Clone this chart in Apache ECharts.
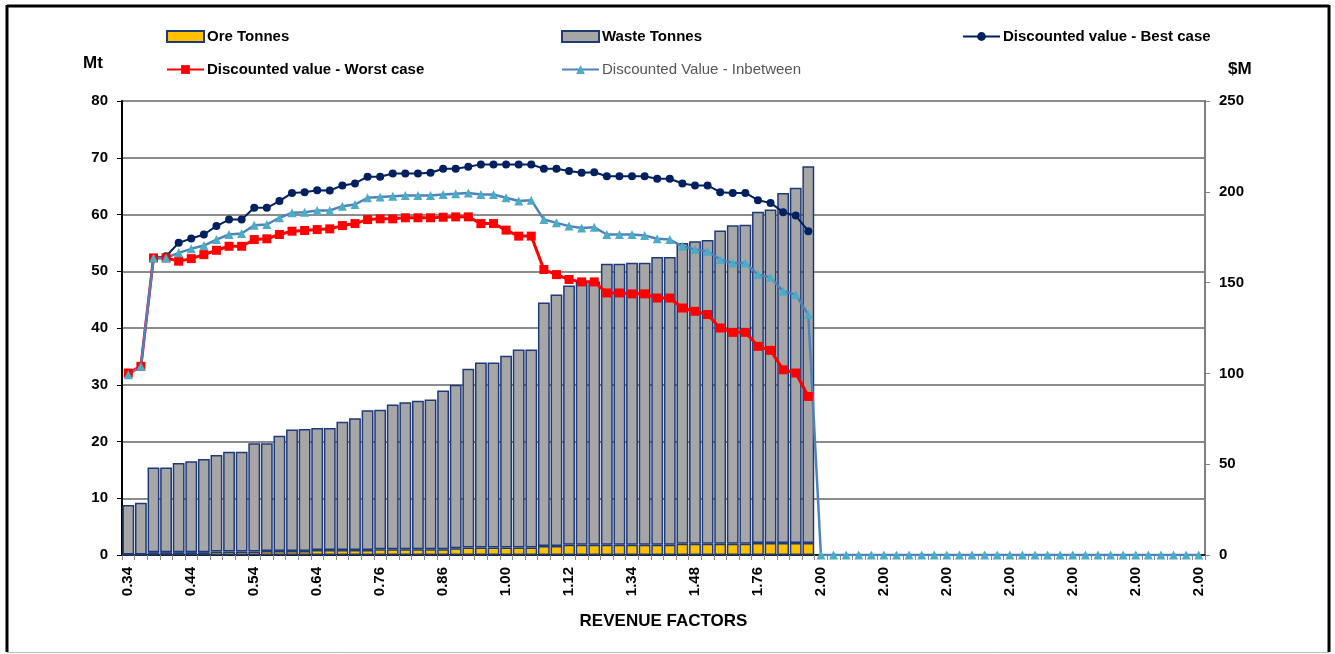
<!DOCTYPE html>
<html>
<head>
<meta charset="utf-8">
<script src="https://cdn.jsdelivr.net/npm/echarts@6/dist/echarts.min.js"></script>
<style>
  html, body { margin: 0; padding: 0; background: #fff; }
  #chart { width: 1335px; height: 654px; }
</style>
</head>
<body>
<div id="chart"></div>
<script>
// revenue factor per pit shell (only every 5th label is shown)
var factors = [
  "0.34", "0.36", "0.38", "0.40", "0.42", "0.44", "0.46", "0.48", "0.50", "0.52",
  "0.54", "0.56", "0.58", "0.60", "0.62", "0.64", "0.66", "0.68", "0.71", "0.74",
  "0.76", "0.78", "0.80", "0.82", "0.84", "0.86", "0.88", "0.90", "0.94", "0.96",
  "1.00", "1.02", "1.04", "1.06", "1.10", "1.12", "1.16", "1.20", "1.24", "1.30",
  "1.34", "1.36", "1.40", "1.42", "1.46", "1.48", "1.54", "1.60", "1.66", "1.70",
  "1.76", "1.80", "1.84", "1.88", "1.94", "2.00", "2.00", "2.00", "2.00", "2.00",
  "2.00", "2.00", "2.00", "2.00", "2.00", "2.00", "2.00", "2.00", "2.00", "2.00",
  "2.00", "2.00", "2.00", "2.00", "2.00", "2.00", "2.00", "2.00", "2.00", "2.00",
  "2.00", "2.00", "2.00", "2.00", "2.00", "2.00"
];

// Mt
var oreTonnes = [
  0.1, 0.1, 0.5, 0.5, 0.5, 0.5, 0.5, 0.6, 0.6, 0.6,
  0.6, 0.7, 0.7, 0.7, 0.7, 0.9, 0.9, 0.9, 0.9, 0.9,
  1.0, 1.0, 1.0, 1.0, 1.0, 1.0, 1.2, 1.3, 1.3, 1.3,
  1.3, 1.3, 1.3, 1.6, 1.6, 1.8, 1.8, 1.8, 1.8, 1.8,
  1.8, 1.8, 1.8, 1.8, 2.0, 2.0, 2.0, 2.0, 2.0, 2.0,
  2.1, 2.1, 2.1, 2.1, 2.1
];
var wasteTonnes = [
  8.7, 9.1, 14.9, 14.9, 15.7, 16.0, 16.4, 17.0, 17.6, 17.6,
  19.1, 19.0, 20.3, 21.4, 21.5, 21.5, 21.5, 22.6, 23.2, 24.6,
  24.6, 25.5, 25.9, 26.2, 26.4, 28.0, 28.8, 31.5, 32.6, 32.6,
  33.8, 34.9, 34.9, 42.9, 44.3, 45.7, 46.4, 46.4, 49.5, 49.5,
  49.7, 49.7, 50.7, 50.7, 53.0, 53.3, 53.5, 55.2, 56.1, 56.2,
  58.4, 58.8, 61.7, 62.6, 66.4
];

// $M
var bestCase = [
  null, null, 163.6, 164.5, 171.9, 174.3, 176.5, 181.1, 184.7, 184.7,
  191.2, 191.2, 194.9, 199.4, 199.8, 200.9, 200.7, 203.5, 204.6, 208.3,
  208.3, 210.1, 210.1, 210.1, 210.5, 212.7, 212.7, 213.8, 215.1, 215.1,
  215.1, 215.1, 215.1, 212.7, 212.7, 211.4, 210.5, 210.8, 208.6, 208.6,
  208.6, 208.6, 207.2, 207.2, 204.6, 203.5, 203.5, 199.8, 199.4, 199.4,
  195.4, 193.9, 188.8, 186.9, 178.3
];
var worstCase = [
  100.2, 103.9, 163.6, 163.6, 161.8, 163.2, 165.4, 167.8, 170.0, 170.0,
  173.7, 174.1, 176.5, 178.3, 178.7, 179.2, 179.6, 181.4, 182.5, 184.7,
  185.1, 185.1, 185.7, 185.7, 185.7, 186.0, 186.2, 186.2, 182.5, 182.5,
  178.9, 175.6, 175.6, 157.2, 154.4, 151.7, 150.4, 150.4, 144.3, 144.3,
  143.8, 143.8, 141.5, 141.5, 136.0, 134.2, 132.4, 125.0, 122.6, 122.6,
  114.9, 112.7, 102.0, 100.2, 87.3
];
var inbetween = [
  99.3, 103.9, 163.6, 163.6, 166.4, 168.6, 170.4, 173.7, 176.5, 177.0,
  181.6, 182.0, 185.7, 188.4, 188.8, 189.7, 189.7, 192.1, 193.0, 196.7,
  197.1, 197.6, 198.0, 198.0, 198.0, 198.5, 198.9, 199.4, 198.5, 198.5,
  196.7, 194.9, 195.4, 184.7, 182.9, 181.1, 180.1, 180.5, 176.5, 176.5,
  176.5, 175.9, 174.1, 173.7, 170.0, 168.2, 167.3, 162.7, 160.8, 160.8,
  154.4, 152.9, 145.2, 143.4, 132.4, 0, 0, 0, 0, 0,
  0, 0, 0, 0, 0, 0, 0, 0, 0, 0,
  0, 0, 0, 0, 0, 0, 0, 0, 0, 0,
  0, 0, 0, 0, 0, 0
];

var font = "Liberation Sans, Arial, sans-serif";
var navy = "#1f3a78";

function legendAt(name, left, top, bold, color, icon) {
  var lg = {
    data: [name],
    left: left,
    top: top,
    itemWidth: 37,
    itemHeight: 11,
    itemGap: 4,
    textStyle: {
      fontFamily: font,
      fontSize: 15,
      fontWeight: bold ? "bold" : "normal",
      color: color || "#000",
      padding: [0, 0, 0, -2]
    }
  };
  if (icon) lg.icon = icon;
  return lg;
}

var myChart = echarts.init(document.getElementById("chart"));
var option = {
  animation: false,
  backgroundColor: "#fff",
  legend: [
    legendAt("Ore Tonnes", 161, 24, true, "#000", "rect"),
    legendAt("Waste Tonnes", 556, 24, true, "#000", "rect"),
    legendAt("Discounted value - Best case", 957, 24, true),
    legendAt("Discounted value - Worst case", 161, 57, true),
    legendAt("Discounted Value - Inbetween", 556, 57, false, "#555")
  ],
  grid: {
    left: 122,
    right: 130,
    top: 101,
    bottom: 99,
    show: true,
    borderColor: "#000",
    borderWidth: 1.5
  },
  graphic: [
    { type: "line", shape: { x1: 7, y1: 6, x2: 1329, y2: 6 }, style: { stroke: "#000", lineWidth: 3 } },
    { type: "line", shape: { x1: 7, y1: 5, x2: 7, y2: 652 }, style: { stroke: "#000", lineWidth: 3 } },
    { type: "line", shape: { x1: 1329, y1: 5, x2: 1329, y2: 652 }, style: { stroke: "#000", lineWidth: 3 } },
    { type: "line", shape: { x1: 7, y1: 652.5, x2: 1329, y2: 652.5 }, style: { stroke: "#bbb", lineWidth: 1 } },
    { type: "text", left: 83, top: 55, style: { text: "Mt", font: "bold 17px " + font, fill: "#000" } },
    { type: "text", left: 1228, top: 61, style: { text: "$M", font: "bold 17px " + font, fill: "#000" } }
  ],
  xAxis: {
    type: "category",
    data: factors,
    name: "REVENUE FACTORS",
    nameLocation: "middle",
    nameGap: 58,
    nameTextStyle: { fontFamily: font, fontSize: 17, fontWeight: "bold", color: "#000" },
    axisLine: { lineStyle: { color: "#000", width: 1.5 } },
    axisTick: { show: true, interval: 0, length: 5, lineStyle: { color: "#888" } },
    axisLabel: {
      interval: 4,
      rotate: 90,
      margin: 12,
      fontFamily: font,
      fontSize: 15,
      fontWeight: "bold",
      color: "#000"
    },
    splitLine: { show: false }
  },
  yAxis: [
    {
      type: "value",
      min: 0,
      max: 80,
      interval: 10,
      axisLine: { show: true, lineStyle: { color: "#000", width: 2 } },
      axisTick: { show: true, length: 5, lineStyle: { color: "#000" } },
      axisLabel: { fontFamily: font, fontSize: 15, fontWeight: "bold", color: "#000", margin: 14 },
      splitLine: { lineStyle: { color: "#8c8c8c", width: 2 } }
    },
    {
      type: "value",
      min: 0,
      max: 250,
      interval: 50,
      position: "right",
      axisLine: { show: true, lineStyle: { color: "#7f7f7f", width: 2 } },
      axisTick: { show: true, length: 5, lineStyle: { color: "#7f7f7f" } },
      axisLabel: { fontFamily: font, fontSize: 15, fontWeight: "bold", color: "#000", margin: 14 },
      splitLine: { show: false }
    }
  ],
  series: [
    {
      name: "Ore Tonnes",
      type: "bar",
      stack: "tonnes",
      barCategoryGap: "6%",
      data: oreTonnes,
      itemStyle: { color: "#ffc000", borderColor: navy, borderWidth: 1.5 }
    },
    {
      name: "Waste Tonnes",
      type: "bar",
      stack: "tonnes",
      barCategoryGap: "6%",
      data: wasteTonnes,
      itemStyle: { color: "#a6a6a6", borderColor: navy, borderWidth: 1.5 }
    },
    {
      name: "Discounted value - Best case",
      type: "line",
      yAxisIndex: 1,
      data: bestCase,
      showAllSymbol: true,
      symbol: "circle",
      symbolSize: 8,
      lineStyle: { color: "#002060", width: 2 },
      itemStyle: { color: "#002060" }
    },
    {
      name: "Discounted value - Worst case",
      type: "line",
      yAxisIndex: 1,
      data: worstCase,
      showAllSymbol: true,
      symbol: "rect",
      symbolSize: 9,
      lineStyle: { color: "#ff0000", width: 3 },
      itemStyle: { color: "#ff0000" }
    },
    {
      name: "Discounted Value - Inbetween",
      type: "line",
      yAxisIndex: 1,
      data: inbetween,
      showAllSymbol: true,
      symbol: "triangle",
      symbolSize: 9,
      lineStyle: { color: "#4f81bd", width: 2.5 },
      itemStyle: { color: "#4bacc6" }
    }
  ]
};
myChart.setOption(option);
</script>
</body>
</html>
